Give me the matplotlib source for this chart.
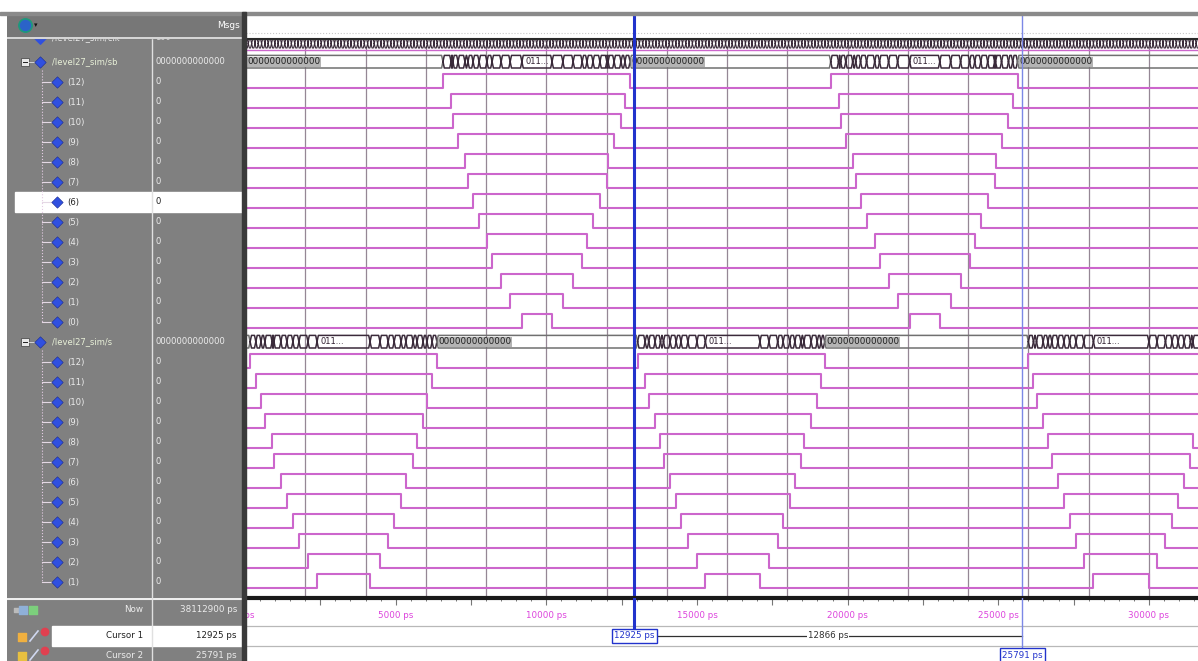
import numpy as np
import matplotlib.pyplot as plt
from matplotlib.patches import Rectangle
from matplotlib.ticker import MultipleLocator

plt.rcParams.update({"font.family": "DejaVu Sans", "font.size": 6.3})

# ---------------- data (times in ps) ----------------
sb_bits = ["(12)", "(11)", "(10)", "(9)", "(8)", "(7)", "(6)", "(5)", "(4)", "(3)", "(2)", "(1)", "(0)"]
sb_rise_a = [6570, 6840, 6900, 7070, 7300, 7400, 7570, 7770, 8030, 8200, 8500, 8800, 9190]
sb_fall_a = [12780, 12610, 12480, 12250, 12050, 12010, 11780, 11550, 11350, 11190, 10890, 10550, 10190]
sb_rise_b = [19440, 19700, 19770, 19940, 20170, 20270, 20430, 20630, 20900, 21060, 21360, 21660, 22060]
sb_fall_b = [25640, 25480, 25340, 25110, 24910, 24880, 24650, 24420, 24220, 24050, 23750, 23420, 23060]

s_bits = ["(12)", "(11)", "(10)", "(9)", "(8)", "(7)", "(6)", "(5)", "(4)", "(3)", "(2)", "(1)"]
s_rise_a = [170, 360, 530, 660, 900, 960, 1190, 1390, 1590, 1790, 2090, 2390]
s_fall_a = [6370, 6210, 6040, 5910, 5710, 5580, 5340, 5180, 4950, 4750, 4480, 4150]
s_rise_b = [13030, 13280, 13400, 13610, 13790, 13890, 14110, 14310, 14470, 14700, 15000, 15280]
s_fall_b = [19240, 19120, 18990, 18790, 18550, 18450, 18250, 18080, 17860, 17680, 17390, 17090]
s_rise_c = [26000, 26170, 26270, 26490, 26650, 26780, 26980, 27180, 27370, 27580, 27840, 28160]
s_fall_c = [None, None, None, None, 31460, 31380, 31170, 30970, 30770, 30550, 30270, 30000]

clk_step_ps = 110
cursor1 = 12925
cursor2 = 25791
now_ps = 38112900
ruler_ticks = [0, 5000, 10000, 15000, 20000, 25000, 30000]
grid_times = [2000, 4000, 6000, 8000, 10000, 12000, 14000, 16000,
              18000, 20000, 22000, 24000, 26000, 28000, 30000]

T0, T1 = -1000, 40000
XMIN, XMAX = 33, 31630
WAVE = "#cc66cc"
PANEL = "#808080"
TXT = "#ececec"

W, H = 1198, 661
fig = plt.figure(figsize=(W / 100, H / 100), dpi=100)


def box(x0, y0, x1, y1):
    return [x0 / W, 1 - y1 / H, (x1 - x0) / W, (y1 - y0) / H]


ax_w = fig.add_axes(box(246, 12, 1198, 598))
ax_l = fig.add_axes(box(7, 12, 243, 598))
ax_bl = fig.add_axes(box(7, 598, 243, 661))
ax_b = fig.add_axes(box(246, 598, 1198, 661))
for a in (ax_w, ax_l, ax_bl, ax_b):
    for sp in a.spines.values():
        sp.set_visible(False)
    a.set_xticks([])
    a.set_yticks([])

# window frame pieces
fig.patches.append(Rectangle((0, 1 - 15 / H), 1, 3 / H, transform=fig.transFigure,
                             color="#8a8a8a", zorder=0))
fig.patches.append(Rectangle((242 / W, 0), 4 / W, 1 - 12 / H, transform=fig.transFigure,
                             color="#3a3a3a", zorder=5))

# ---------------- wave pane ----------------
ax_w.set_xlim(XMIN, XMAX)
ax_w.set_ylim(27.8, -1.5)
ax_w.vlines(grid_times, 0.2, 27.8, color="#958795", lw=0.9, zorder=1)
ax_w.axhline(-0.45, color="#c8c8c8", lw=0.8, ls=":", zorder=1)


def bit_wave(row, pairs):
    hi, lo = row - 0.4, row + 0.3
    xs, ys = [T0], [lo]
    for r, f in pairs:
        f = T1 if f is None else f
        xs += [r, r, f, f]
        ys += [lo, hi, hi, lo]
    xs.append(T1)
    ys.append(lo)
    ax_w.plot(xs, ys, color=WAVE, lw=1.5, zorder=3)


def seg_lines(a, b, top, bot, d):
    mid = (top + bot) / 2
    return [a, a + d, b - d, b, b - d, a + d, a, np.nan], [mid, top, top, mid, bot, bot, mid, np.nan]


def bus_wave(row, bit_pairs, zero_text):
    changes = sorted({t for pairs in bit_pairs for p in pairs for t in p if t is not None})
    pts = [T0] + changes + [T1]
    top, bot = row - 0.33, row + 0.3
    mid = (top + bot) / 2
    n = len(bit_pairs)
    for a, b in zip(pts[:-1], pts[1:]):
        m = (a + b) / 2
        high = sum(any(r <= m < (T1 if f is None else f) for r, f in pairs) for pairs in bit_pairs)
        col = "#707070" if high == 0 else "#3a2a3a"
        xs, ys = seg_lines(a, b, top, bot, 45)
        ax_w.plot(xs, ys, color=col, lw=1.1, zorder=3)
        if high == 0 and min(b, XMAX) - max(a, XMIN) > 2600:
            ax_w.text(max(a, XMIN) + 60, mid, zero_text, ha="left", va="center", fontsize=6.3,
                      color="#202020", zorder=4, clip_on=True,
                      bbox=dict(boxstyle="square,pad=0.05", fc="#b4b4b4", ec="none"))
        elif high == n and b - a > 700:
            ax_w.text(a + 110, mid, "011...", ha="left", va="center", fontsize=6,
                      color="#302030", zorder=4)


# row 0: very fast bus, drawn as dense crossings
clk_t = np.arange(0, XMAX + 500, clk_step_ps)
cx, cy = [], []
for a, b in zip(clk_t[:-1], clk_t[1:]):
    xs, ys = seg_lines(a, b, -0.15, 0.3, 35)
    cx += xs
    cy += ys
ax_w.plot(cx, cy, color="#3a2a3a", lw=0.8, zorder=3)
ax_w.axhline(-0.13, color="#2a2a2a", lw=1.5, zorder=3)
ax_w.axhline(0.42, color=WAVE, lw=1.0, zorder=3)

sb_pairs = [[(a, b), (c, d)] for a, b, c, d in zip(sb_rise_a, sb_fall_a, sb_rise_b, sb_fall_b)]
s_pairs = [[(a, b), (c, d), (e, f)]
           for a, b, c, d, e, f in zip(s_rise_a, s_fall_a, s_rise_b, s_fall_b, s_rise_c, s_fall_c)]

bus_wave(1, sb_pairs, "0000000000000")
for i, pairs in enumerate(sb_pairs):
    bit_wave(2 + i, pairs)
bus_wave(15, s_pairs, "0000000000000")
for i, pairs in enumerate(s_pairs):
    bit_wave(16 + i, pairs)

ax_w.axvline(cursor1, color="#2233cc", lw=2.2, zorder=6)
ax_w.axvline(cursor2, color="#7c88e6", lw=1.0, zorder=6)

# ---------------- ruler / cursor pane ----------------
ax_b.set_xlim(XMIN, XMAX)
ax_b.set_ylim(661, 598)
ax_b.set_facecolor("white")
ax_b.spines["top"].set_visible(True)
ax_b.spines["top"].set_linewidth(3)
ax_b.spines["top"].set_color("#1a1a1a")
ax_b.xaxis.set_major_locator(MultipleLocator(2500))
ax_b.xaxis.set_minor_locator(MultipleLocator(500))
ax_b.tick_params(axis="x", which="both", top=True, bottom=False, labelbottom=False,
                 direction="in", color="#777777")
ax_b.tick_params(axis="x", which="major", length=5, width=0.8)
ax_b.tick_params(axis="x", which="minor", length=2.5, width=0.7)
for t in ruler_ticks:
    ax_b.text(t, 615, f"{t} ps", ha="center", va="center", color="#dd44dd", fontsize=6.3,
              clip_on=True)
ax_b.axhline(626, color="#b8b8b8", lw=0.9)
ax_b.axhline(646, color="#b8b8b8", lw=0.9)
ax_b.plot([cursor1, cursor1], [598, 636], color="#2233cc", lw=2.2, zorder=3)
ax_b.plot([cursor2, cursor2], [598, 648], color="#7c88e6", lw=1.0, zorder=3)
ax_b.plot([cursor1, cursor2], [636, 636], color="#303030", lw=0.9, zorder=2)
ax_b.text(cursor1, 636, f"{cursor1} ps", ha="center", va="center", color="#2233cc",
          fontsize=6.3, zorder=5,
          bbox=dict(boxstyle="square,pad=0.25", fc="white", ec="#2233cc", lw=1))
ax_b.text(cursor2, 655, f"{cursor2} ps", ha="center", va="center", color="#2233cc",
          fontsize=6.3, zorder=5,
          bbox=dict(boxstyle="square,pad=0.25", fc="white", ec="#2233cc", lw=1))
ax_b.text((cursor1 + cursor2) / 2, 636, f"{cursor2 - cursor1} ps", ha="center", va="center",
          color="#303030", fontsize=6.3, zorder=4,
          bbox=dict(boxstyle="square,pad=0.1", fc="white", ec="none"))

# ---------------- signal list pane ----------------
ax_l.set_xlim(7, 243)
ax_l.set_ylim(27.8, -1.5)
ax_l.set_facecolor(PANEL)
ax_l.add_patch(Rectangle((7, -1.5), 236, 1.3, color="#777777", zorder=8))
ax_l.axhline(-0.2, color="#e8e8e8", lw=1.2, zorder=9)
ax_l.axvline(152, color="#e0e0e0", lw=1.0, zorder=7)
ax_l.scatter([25], [-0.85], s=90, color="#2b63c8", edgecolor="#1c9a7a", lw=1.2, zorder=10)
ax_l.text(34, -0.85, "▾", color="#111111", fontsize=5, va="center", zorder=10)
ax_l.text(240, -0.85, "Msgs", color="white", ha="right", va="center", fontsize=6.5, zorder=10)

# highlighted row (6) of sb
hl_row = 2 + sb_bits.index("(6)")
ax_l.add_patch(Rectangle((15, hl_row - 0.5), 228, 1.0, color="white", zorder=1))

# row 0 (half hidden under the header)
ax_l.scatter([40], [-0.2], marker="D", s=34, color="#3050e0", zorder=4)
ax_l.text(52, -0.2, "/level27_sim/clk", color=TXT, va="center", fontsize=6, zorder=4)
ax_l.text(155, -0.2, "100", color=TXT, va="center", fontsize=6, zorder=4)


def group_row(row, name):
    ax_l.add_patch(Rectangle((21, row - 0.2), 8, 0.4, fc="#e8e8e8", ec="#505050", lw=0.6, zorder=4))
    ax_l.plot([23, 27], [row, row], color="#202020", lw=0.7, zorder=5)
    ax_l.plot([29, 35], [row, row], color="#e0e0e0", lw=0.6, zorder=4)
    ax_l.scatter([40], [row], marker="D", s=34, color="#3050e0", edgecolor="#1a2a90", lw=0.4, zorder=5)
    ax_l.text(52, row, name, color="#e8f0d8", va="center", fontsize=6, zorder=5)
    ax_l.text(155, row, "0000000000000", color=TXT, va="center", fontsize=6.1, zorder=5)


def bit_rows(first_row, labels):
    rows = [first_row + i for i in range(len(labels))]
    ax_l.plot([42, 42], [first_row - 0.6, rows[-1]], color="#e4cce4", lw=0.8, ls=":", zorder=3)
    for r, lab in zip(rows, labels):
        dark = r == hl_row
        ax_l.plot([42, 52], [r, r], color="#e4d8e4", lw=0.8, zorder=3)
        ax_l.scatter([57], [r], marker="D", s=34, color="#3050e0", edgecolor="#1a2a90", lw=0.4, zorder=5)
        ax_l.text(67, r, lab, color="#202020" if dark else TXT, va="center", fontsize=6.1, zorder=5)
        ax_l.text(155, r, "0", color="#202020" if dark else TXT, va="center", fontsize=6.1, zorder=5)


group_row(1, "/level27_sim/sb")
bit_rows(2, sb_bits)
group_row(15, "/level27_sim/s")
bit_rows(16, s_bits)

# ---------------- now / cursor list pane ----------------
ax_bl.set_xlim(7, 243)
ax_bl.set_ylim(661, 598)
ax_bl.set_facecolor(PANEL)
ax_bl.axhline(599, color="#eeeeee", lw=1.5)
ax_bl.add_patch(Rectangle((52, 626), 191, 20, color="white", zorder=1))
ax_bl.axvline(152, color="#e0e0e0", lw=1.0, zorder=2)
ax_bl.scatter([16, 23, 33], [610, 610, 610], marker="s", s=[8, 30, 30],
              color=["#bbbbbb", "#8fb0d8", "#7ccf7c"], zorder=3)
ax_bl.scatter([22, 22], [637, 656], marker="s", s=35, color=["#f0b040", "#e8c040"], zorder=3)
ax_bl.plot([30, 38], [641, 631], color="#d0d8f0", lw=1.2, zorder=3)
ax_bl.plot([30, 38], [660, 650], color="#d0d8f0", lw=1.2, zorder=3)
ax_bl.scatter([45, 45], [632, 651], s=28, color=["#e04050", "#e04050"], zorder=3)
ax_bl.text(143, 610, "Now", color=TXT, ha="right", va="center", fontsize=6.3)
ax_bl.text(237, 610, f"{now_ps} ps", color=TXT, ha="right", va="center", fontsize=6.3)
ax_bl.text(143, 636, "Cursor 1", color="#202020", ha="right", va="center", fontsize=6.3, zorder=3)
ax_bl.text(237, 636, f"{cursor1} ps", color="#202020", ha="right", va="center", fontsize=6.3, zorder=3)
ax_bl.text(143, 655, "Cursor 2", color=TXT, ha="right", va="center", fontsize=6.3)
ax_bl.text(237, 655, f"{cursor2} ps", color=TXT, ha="right", va="center", fontsize=6.3)

fig.savefig("out.png", dpi=100, facecolor="white")
